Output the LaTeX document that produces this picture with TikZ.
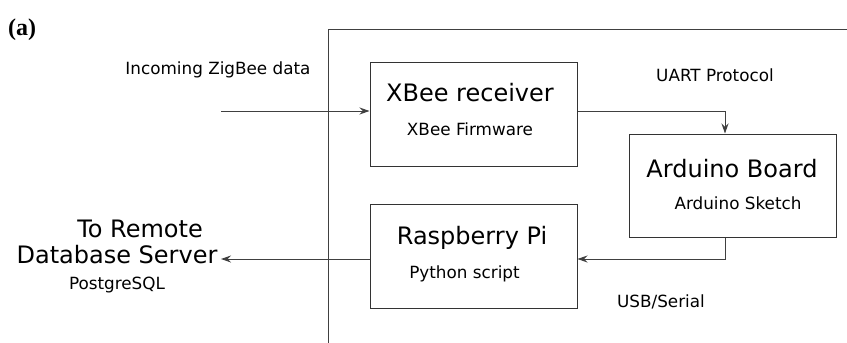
\documentclass[tikz,border=0pt]{standalone}
\usepackage{fontspec}
\setmainfont{DejaVu Sans}
\newfontfamily\serifa{Liberation Serif}
\usetikzlibrary{arrows.meta}
\tikzset{
  box/.style={draw=black!80, line width=1pt, minimum width=207pt, minimum height=104pt, inner sep=0pt},
  big/.style={font=\fontsize{24}{28}\selectfont, inner sep=0pt, anchor=base},
  small/.style={font=\fontsize{16.8}{20}\selectfont, inner sep=0pt, anchor=base},
  frame/.style={draw=black!75, line width=1pt},
  arr/.style={draw=black!75, line width=1pt, -{Stealth[length=10pt,width=7pt,inset=3.5pt]}},
}
\begin{document}
\begin{tikzpicture}[x=1pt,y=-1pt]
\useasboundingbox (0,0) rectangle (847,343);
\node[anchor=base west, inner sep=0pt, font=\serifa\bfseries\fontsize{24}{28}\selectfont] (lbl) at (8,35.5) {(a)};
\draw[frame] (328,343) -- (328,29) -- (847,29);
\node[box] (xbee) at (473.5,114) {};
\node[box, minimum height=103pt] (ard) at (732.5,185.5) {};
\node[box] (rpi) at (473.5,256) {};
\node[big] (xt) at (470,101) {XBee receiver};
\node[small] (xs) at (470,135) {XBee Firmware};
\node[big] (at) at (732,177) {Arduino Board};
\node[small] (as) at (738,209) {Arduino Sketch};
\node[big] (rt) at (472,244) {Raspberry Pi};
\node[small] (rs) at (464.5,278) {Python script};
\node[small] (inl) at (218,74) {Incoming ZigBee data};
\node[small] (ul) at (715,81) {UART Protocol};
\node[small] (sl) at (661,307) {USB/Serial};
\node[big] (d1) at (140,237) {To Remote};
\node[big] (d2) at (117,263) {Database Server};
\node[small] (d3) at (117,289) {PostgreSQL};
\coordinate (inc) at (221,111);
\coordinate (ux) at (725,0);
\coordinate (ry) at (0,259);
\coordinate (db) at (221,259);
\draw[arr] (inc) -- (inc -| xbee.west);
\draw[arr] (inc -| xbee.east) -| (ux |- ard.north);
\draw[arr] (ux |- ard.south) |- (ry -| rpi.east);
\draw[arr] (ry -| rpi.west) -- (db);
\end{tikzpicture}
\end{document}
